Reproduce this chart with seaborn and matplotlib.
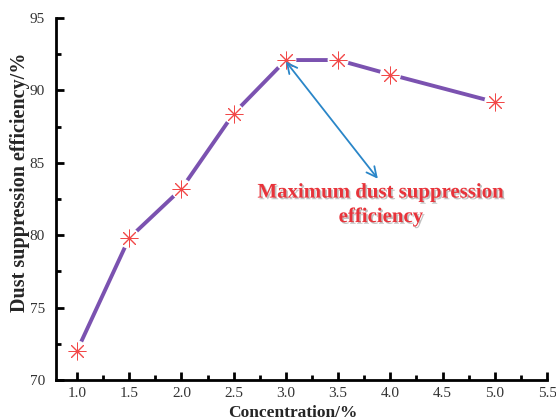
import matplotlib
matplotlib.use("Agg")
import matplotlib.pyplot as plt
import matplotlib.patheffects as pe
from matplotlib.ticker import MultipleLocator
import seaborn as sns
import pandas as pd

concentration = [1.0, 1.5, 2.0, 2.5, 3.0, 3.5, 4.0, 5.0]
efficiency = [72.0, 79.8, 83.2, 88.4, 92.1, 92.1, 91.1, 89.2]
x_ticks = [1.0, 1.5, 2.0, 2.5, 3.0, 3.5, 4.0, 4.5, 5.0, 5.5]
y_ticks = [70, 75, 80, 85, 90, 95]

df = pd.DataFrame({"Concentration": concentration, "Efficiency": efficiency})

sns.set_theme(style="white")
plt.rcParams["font.family"] = ["Liberation Serif", "DejaVu Serif"]

fig = plt.figure(figsize=(5.56, 4.2), dpi=100)
ax = fig.add_axes([0.1007, 0.0952, 0.8833, 0.8618])

sns.lineplot(data=df, x="Concentration", y="Efficiency", ax=ax,
             color="#7b52b0", linewidth=2.8)
for ln in ax.lines:
    ln.set_zorder(2)
# white halo so the line breaks around each point
ax.scatter(concentration, efficiency, s=230, marker="o", color="white",
           edgecolors="none", zorder=3)
sns.scatterplot(data=df, x="Concentration", y="Efficiency", ax=ax,
                marker=(8, 2, 0), s=150, color="#f24848", linewidth=0.7,
                zorder=4)

ax.set_xlim(0.8, 5.5)
ax.set_ylim(70, 95)
ax.set_xticks(x_ticks)
ax.set_yticks(y_ticks)
ax.set_xticklabels([f"{v:.1f}" for v in x_ticks])
ax.xaxis.set_minor_locator(MultipleLocator(0.25))
ax.yaxis.set_minor_locator(MultipleLocator(2.5))

for side in ("top", "right"):
    ax.spines[side].set_visible(False)
for side in ("left", "bottom"):
    ax.spines[side].set_linewidth(2.0)
    ax.spines[side].set_color("black")

ax.tick_params(which="major", direction="in", length=6, width=2,
               colors="black", labelcolor="#333333", labelsize=11, pad=8,
               bottom=True, left=True)
ax.tick_params(axis="x", which="major", pad=5)
ax.tick_params(which="minor", direction="in", length=3.5, width=2,
               colors="black", bottom=True, left=True)

ax.set_xlabel("Concentration/%", fontsize=12.5, fontweight="bold")
ax.set_ylabel("Dust suppression efficiency/%", fontsize=14.5,
              fontweight="bold")
ax.xaxis.set_label_coords(0.483, -0.068)
ax.yaxis.set_label_coords(-0.052, 0.547)

ax.annotate("", xy=(3.0, 92.0), xytext=(3.88, 83.9),
            arrowprops=dict(arrowstyle="<->,head_length=0.6,head_width=0.3",
                            color="#2a86c8", lw=1.3,
                            shrinkA=0, shrinkB=0),
            zorder=5)

ax.text(3.91, 82.1, "Maximum dust suppression\nefficiency", ha="center",
        va="center", fontsize=15, fontweight="bold", color="#e8333a",
        linespacing=1.3,
        path_effects=[pe.withSimplePatchShadow(offset=(1.2, -1.2),
                                               shadow_rgbFace="#999999",
                                               alpha=0.6)])

fig.savefig("out.png", dpi=100)
